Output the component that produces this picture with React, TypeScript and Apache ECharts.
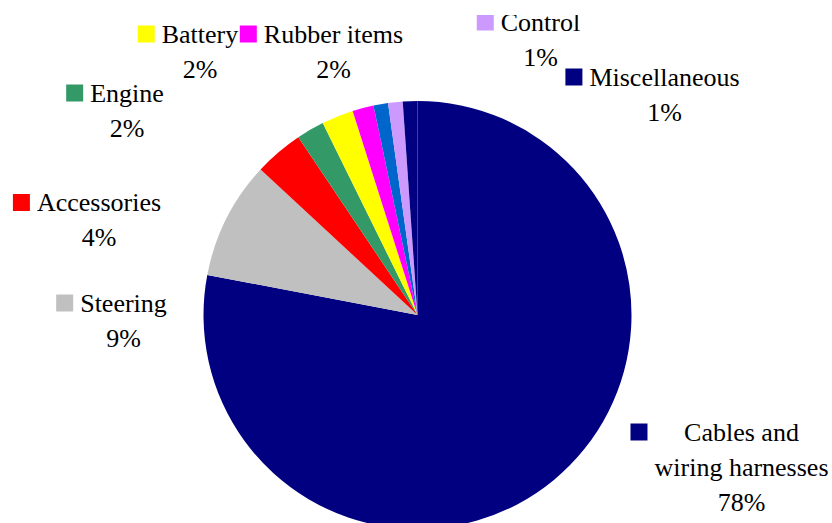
import React, { useEffect, useRef } from "react";
import * as echarts from "echarts";

// Categories in clockwise order starting at 12 o'clock
const CATEGORIES = [
  "Cables and wiring harnesses",
  "Steering",
  "Accessories",
  "Engine",
  "Battery",
  "Rubber items",
  "Other",
  "Control",
  "Miscellaneous",
];

// Share of each category (percent)
const VALUES = [78.0, 8.9, 3.7, 2.1, 2.4, 1.6, 1.1, 1.1, 1.1];

const COLORS = [
  "#000080",
  "#C0C0C0",
  "#FF0000",
  "#339966",
  "#FFFF00",
  "#FF00FF",
  "#0066CC",
  "#CC99FF",
  "#000080",
];

// Whether a label is visible (the "Other" label falls outside the picture)
const SHOW_LABEL = [true, true, true, true, true, true, false, true, true];

// Label block centres (page px)
const LABEL_POS: [number, number][] = [
  [729.5, 467],
  [111.5, 320.5],
  [87, 220],
  [115, 110.5],
  [188, 51.5],
  [321.5, 51.5],
  [0, 0],
  [528.5, 39.5],
  [652.5, 94.5],
];

const FONT = "serif";

function wrapName(name: string): string[] {
  if (name === "Cables and wiring harnesses") return ["Cables and", "wiring harnesses"];
  return [name];
}

export default function App() {
  const ref = useRef<HTMLDivElement>(null);

  useEffect(() => {
    if (!ref.current) return;
    const chart = echarts.init(ref.current, null, { renderer: "svg" });

    const rich: Record<string, any> = {
      gap: { width: 7, height: 17, align: "left" },
      sp: { width: 24, height: 17, align: "left" },
      t: {
        fontSize: 26,
        fontFamily: FONT,
        fontWeight: "normal",
        color: "#000000",
        lineHeight: 35,
        align: "center",
      },
    };
    COLORS.forEach((c, i) => {
      rich["k" + i] = { width: 17, height: 17, backgroundColor: c, align: "left" };
    });

    const data = CATEGORIES.map((name, i) => ({
      name,
      value: VALUES[i],
      itemStyle: { color: COLORS[i] },
      label: { show: SHOW_LABEL[i] },
    }));

    chart.setOption({
      animation: false,
      backgroundColor: "#ffffff",
      textStyle: { fontFamily: FONT },
      series: [
        {
          type: "pie",
          center: [417.5, 315],
          radius: 214,
          startAngle: 90,
          clockwise: true,
          silent: true,
          avoidLabelOverlap: false,
          itemStyle: { borderWidth: 0 },
          emphasis: { disabled: true },
          labelLine: { show: false },
          label: {
            show: true,
            position: "outside",
            align: "center",
            lineHeight: 35,
            fontFamily: FONT,
            fontSize: 26,
            color: "#000000",
            rich,
            formatter: (p: any) => {
              const lines = wrapName(p.name);
              const pct = Math.round(p.percent) + "%";
              const out = [`{k${p.dataIndex}|}{gap|}{t|${lines[0]}}`];
              for (let i = 1; i < lines.length; i++) out.push(`{sp|}{t|${lines[i]}}`);
              out.push(`{sp|}{t|${pct}}`);
              return out.join("\n");
            },
          },
          labelLayout: (params: any) => {
            const pos = LABEL_POS[params.dataIndex];
            return {
              x: pos[0],
              y: pos[1],
              align: "center",
              verticalAlign: "middle",
              hideOverlap: false,
            };
          },
          data,
        },
      ],
      graphic: [
        {
          type: "rect",
          z: 1000,
          shape: { x: 0, y: 0, width: 832, height: 15 },
          style: { fill: "#ffffff" },
        },
      ],
    });

    return () => {
      chart.dispose();
    };
  }, []);

  return (
    <div
      ref={ref}
      style={{ position: "fixed", left: 0, top: 0, width: 832, height: 523 }}
    />
  );
}
